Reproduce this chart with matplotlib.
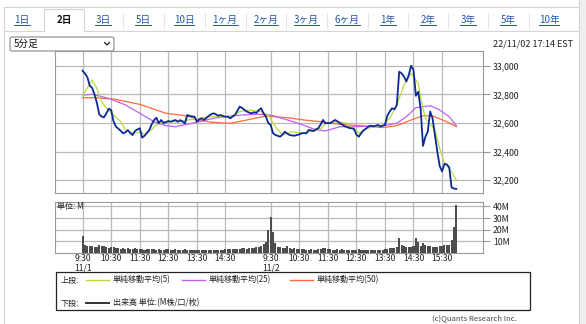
import matplotlib
matplotlib.use('Agg')
import matplotlib.pyplot as plt
from matplotlib.patches import Rectangle, FancyBboxPatch

plt.rcParams['font.family'] = ['Noto Sans CJK JP', 'DejaVu Sans']

W, H = 586, 324

# 5-minute closes, bar index 0 = 11/1 9:30, index 79 = 11/2 9:30
price = [
    32965, 32945, 32920, 32860, 32845, 32800, 32740, 32660, 32645, 32640,
    32668, 32700, 32690, 32610, 32575, 32560, 32545, 32528, 32535, 32550,
    32530, 32516, 32544, 32555, 32563, 32498, 32510, 32530, 32551, 32590,
    32620, 32637, 32598, 32621, 32600, 32605, 32614, 32609, 32615, 32621,
    32609, 32620, 32610, 32598, 32656, 32649, 32646, 32644, 32609, 32625,
    32633, 32621, 32635, 32650, 32661, 32668, 32660, 32651, 32656, 32648,
    32644, 32644, 32633, 32645, 32656, 32685, 32714, 32705, 32691, 32680,
    32672, 32668, 32675, 32670, 32690, 32703, 32668, 32644, 32600, 32586,
    32528, 32516, 32510, 32504, 32520, 32539, 32525, 32516, 32513, 32511,
    32516, 32520, 32528, 32530, 32528, 32551, 32548, 32544, 32555, 32563,
    32590, 32621, 32598, 32600, 32598, 32610, 32621, 32612, 32600, 32590,
    32578, 32572, 32565, 32563, 32558, 32520, 32504, 32528, 32548, 32560,
    32574, 32581, 32576, 32580, 32586, 32576, 32580, 32586, 32650, 32680,
    32703, 32695, 32726, 32958, 32947, 32925, 32890, 32935, 33000, 32970,
    32790, 32818, 32700, 32440, 32504, 32539, 32680, 32633, 32516, 32400,
    32300, 32262, 32315, 32310, 32290, 32150, 32142, 32139]

sma5_x = [0, 4, 6, 8, 10, 13, 16, 18, 21, 24, 26, 28, 31, 34, 40, 44, 48, 53, 58, 63,
          66, 70, 75, 78, 81, 84, 88, 93, 96, 100, 102, 107, 111, 114, 116, 119, 122,
          126, 129, 132, 135, 138, 141, 142, 144, 147, 148, 150, 152, 154, 157]
sma5 = [32791, 32900, 32842, 32749, 32703, 32656, 32609, 32551, 32528, 32535,
        32521, 32539, 32586, 32609, 32609, 32621, 32628, 32644, 32644, 32644,
        32679, 32691, 32679, 32656, 32574, 32516, 32539, 32528, 32540, 32560,
        32598, 32609, 32598, 32563, 32528, 32558, 32574, 32581, 32633, 32726,
        32865, 32947, 32877, 32772, 32633, 32574, 32551, 32423, 32319, 32284, 32202]

sma25_x = [0, 4, 11, 18, 24, 30, 35, 39, 44, 49, 55, 60, 67, 74, 79, 86, 92, 97, 102, 108,
           115, 122, 128, 132, 136, 140, 146, 150, 154, 157]
sma25 = [32795, 32800, 32772, 32726, 32668, 32609, 32581, 32574, 32591, 32609,
         32633, 32644, 32656, 32661, 32656, 32621, 32590, 32558, 32544, 32574,
         32574, 32579, 32586, 32598, 32644, 32707, 32721, 32691, 32644, 32581]

sma50_x = [0, 5, 14, 24, 35, 44, 49, 54, 62, 69, 77, 86, 93, 100, 108, 117, 126, 132,
           138, 143, 147, 153, 157]
sma50 = [32777, 32777, 32765, 32730, 32668, 32649, 32621, 32605, 32598, 32621,
         32649, 32637, 32621, 32609, 32591, 32581, 32568, 32581, 32621, 32651,
         32649, 32609, 32574]

# volume in millions
volume = [
    14.8, 6.5, 6.0, 5.8, 6.4, 5.2, 5.5, 7.0, 5.8, 6.2,
    5.5, 4.6, 5.0, 4.8, 4.2, 4.5, 3.8, 4.0, 3.6, 4.2,
    3.5, 3.8, 4.2, 3.4, 3.2, 3.6, 3.0, 3.4, 3.1, 3.8,
    3.3, 2.9, 3.5, 3.0, 2.8, 3.2, 3.6, 2.7, 2.9, 3.3,
    3.0, 2.6, 2.8, 3.2, 2.5, 2.7, 2.4, 3.0, 2.6, 2.8,
    2.5, 2.6, 2.9, 2.4, 2.7, 2.5, 2.8, 2.6, 3.0, 2.7,
    3.2, 3.4, 3.1, 3.6, 3.3, 3.8, 3.5, 3.9, 4.2, 3.7,
    4.0, 4.5, 4.1, 4.8, 5.2, 6.0, 7.5, 9.7, 19.7, 31.0,
    18.0, 8.3, 5.5, 5.0, 4.2, 4.6, 6.0, 4.0, 3.8, 4.4,
    3.5, 3.6, 3.2, 3.4, 2.9, 3.0, 3.3, 2.8, 3.0, 3.6,
    3.8, 4.6, 4.2, 3.5, 3.3, 3.0, 2.8, 3.1, 2.7, 3.2,
    2.9, 2.6, 2.8, 2.5, 2.7, 2.9, 3.6, 2.8, 2.5, 2.3,
    2.4, 2.2, 2.6, 2.4, 2.5, 2.8, 3.0, 3.3, 3.6, 4.2,
    4.0, 4.4, 4.8, 13.0, 7.0, 6.2, 5.2, 5.0, 5.4, 6.0,
    12.5, 9.1, 6.0, 9.0, 6.5, 5.8, 6.2, 5.5, 5.0, 5.4,
    5.6, 6.2, 6.8, 6.5, 7.0, 11.5, 22.0, 41.0]

tick_pos = [0, 12, 24, 36, 48, 60, 79, 91, 103, 115, 127, 139, 151]
tick_labels = ['9:30\n11/1', '10:30', '11:30', '12:30', '13:30', '14:30',
               '9:30\n11/2', '10:30', '11:30', '12:30', '13:30', '14:30', '15:30']
price_ticks = [32200, 32400, 32600, 32800, 33000]
vol_ticks = [10, 20, 30, 40]

tabs = ['1日', '2日', '3日', '5日', '10日', '1ヶ月', '2ヶ月', '3ヶ月', '6ヶ月',
        '1年', '2年', '3年', '5年', '10年']
tab_x = [22, 64, 103, 143, 184, 225, 266, 306, 347, 388, 428, 468, 508, 549]
active_tab = 1

GRID = '#b9b9b9'
FRAME = '#9a9a9a'


def box(l, t, r, b):
    return [l / W, 1 - b / H, (r - l) / W, (b - t) / H]


fig = plt.figure(figsize=(W / 100, H / 100), dpi=100)

# page decorations in pixel coordinates
page = fig.add_axes([0, 0, 1, 1], zorder=0)
page.set_xlim(0, W)
page.set_ylim(H, 0)
page.axis('off')

page.add_patch(Rectangle((579, 0), 7, H, fc='#efefef', ec='none'))
page.plot([579, 579], [0, H], color='#d4d4d4', lw=0.8)
page.plot([4, 4], [7, H], color='#cdd6df', lw=0.8)
page.plot([4, 579], [7, 7], color='#cdd6df', lw=0.8)
page.plot([4, 44], [31, 31], color='#cdd6df', lw=0.8)
page.plot([84, 579], [31, 31], color='#cdd6df', lw=0.8)
page.plot([44, 44, 84, 84], [31, 9, 9, 31], color='#cdd6df', lw=0.8)
for i in range(len(tab_x) - 1):
    if active_tab in (i, i + 1):
        continue
    xm = (tab_x[i] + tab_x[i + 1]) / 2
    page.plot([xm, xm], [13, 28], color='#e0e5eb', lw=0.8)

tab_texts = []
for i, (lab, x) in enumerate(zip(tabs, tab_x)):
    if i == active_tab:
        page.text(x, 20, lab, ha='center', va='center', fontsize=7,
                  fontweight='bold', color='#111111')
    else:
        tab_texts.append(page.text(x, 20, lab, ha='center', va='center',
                                   fontsize=7, color='#2255aa'))

page.add_patch(FancyBboxPatch((10, 37), 104, 14, boxstyle='round,pad=0,rounding_size=2',
                              fc='white', ec='#8a8a8a', lw=0.8))
page.text(14, 44, '5分足', ha='left', va='center', fontsize=7, color='#111111')
page.plot([104.5, 107, 109.5], [42.5, 45, 42.5], color='#222222', lw=0.9)
page.text(573, 44, '22/11/02 17:14 EST', ha='right', va='center', fontsize=6.5,
          color='#222222')

# legend box
page.add_patch(Rectangle((56, 272), 474, 37.5, fill=False, ec='#222222', lw=0.9))
page.text(61, 280, '上段:', ha='left', va='center', fontsize=5.8, color='#222222')
legend_items = [(86, '#b8dc3e', '単純移動平均(5)'),
                (182, '#c060f0', '単純移動平均(25)'),
                (290, '#ff6a3a', '単純移動平均(50)')]
for x0, c, lab in legend_items:
    page.plot([x0, x0 + 23], [280, 280], color=c, lw=1.0)
    page.text(x0 + 27, 280, lab, ha='left', va='center', fontsize=5.8, color='#222222')
page.text(61, 303, '下段:', ha='left', va='center', fontsize=5.8, color='#222222')
page.plot([86, 109], [303, 303], color='#333333', lw=1.4)
page.text(113, 303, '出来高 単位:(M株/口/枚)', ha='left', va='center', fontsize=5.8,
          color='#222222')
page.text(517, 318, '(c)Quants Research Inc.', ha='right', va='center', fontsize=5.5,
          color='#444444')

# price panel
ax = fig.add_axes(box(55, 50.7, 483, 192.7), zorder=1)
ax.plot(sma50_x, sma50, color='#ff6a3a', lw=0.9, zorder=3)
ax.plot(sma25_x, sma25, color='#c060f0', lw=0.9, zorder=4)
ax.plot(sma5_x, sma5, color='#b8dc3e', lw=0.9, zorder=5)
ax.plot(range(len(price)), price, color='#0c2a96', lw=1.3, zorder=6)
ax.set_xlim(-11.6, 168.2)
ax.set_ylim(32113, 33105)
ax.set_xticks(tick_pos)
ax.set_yticks(price_ticks)
ax.set_yticklabels([f'{v:,}' for v in price_ticks])
ax.yaxis.tick_right()
ax.tick_params(axis='x', length=0, labelbottom=False)
ax.tick_params(axis='y', length=5, color=FRAME, width=0.8, pad=2, labelsize=6.3,
               labelcolor='#222222')
ax.grid(True, color=GRID, lw=0.9)
ax.set_axisbelow(True)
for s in ax.spines.values():
    s.set_color(FRAME)
    s.set_linewidth(0.8)

# volume panel
vx = fig.add_axes(box(55, 201.7, 483, 253), zorder=1)
vx.bar(range(len(volume)), volume, width=0.85, color='#4d4d4d', zorder=3)
vx.set_xlim(-11.6, 168.2)
vx.set_ylim(0, 44)
vx.set_xticks(tick_pos)
vx.set_xticklabels(tick_labels, linespacing=0.95)
vx.set_yticks(vol_ticks)
vx.set_yticklabels([f'{v}M' for v in vol_ticks])
vx.yaxis.tick_right()
vx.tick_params(axis='x', length=0, pad=1, labelsize=6.2, labelcolor='#222222')
vx.tick_params(axis='y', length=5, color=FRAME, width=0.8, pad=2, labelsize=6.3,
               labelcolor='#222222')
vx.grid(True, color=GRID, lw=0.9)
vx.set_axisbelow(True)
for s in vx.spines.values():
    s.set_color(FRAME)
    s.set_linewidth(0.8)
vx.text(57, 207, '単位: M', transform=page.transData, ha='left', va='center',
        fontsize=5.8, color='#222222', zorder=6)

# underline the link tabs
fig.canvas.draw()
r = fig.canvas.get_renderer()
inv = page.transData.inverted()
for t in tab_texts:
    bb = t.get_window_extent(r)
    (x0, y0), (x1, y1) = inv.transform([[bb.x0, bb.y0], [bb.x1, bb.y1]])
    page.plot([x0, x1], [y0 + 0.4, y0 + 0.4], color='#2255aa', lw=0.7)

fig.savefig('out.png', dpi=100)
